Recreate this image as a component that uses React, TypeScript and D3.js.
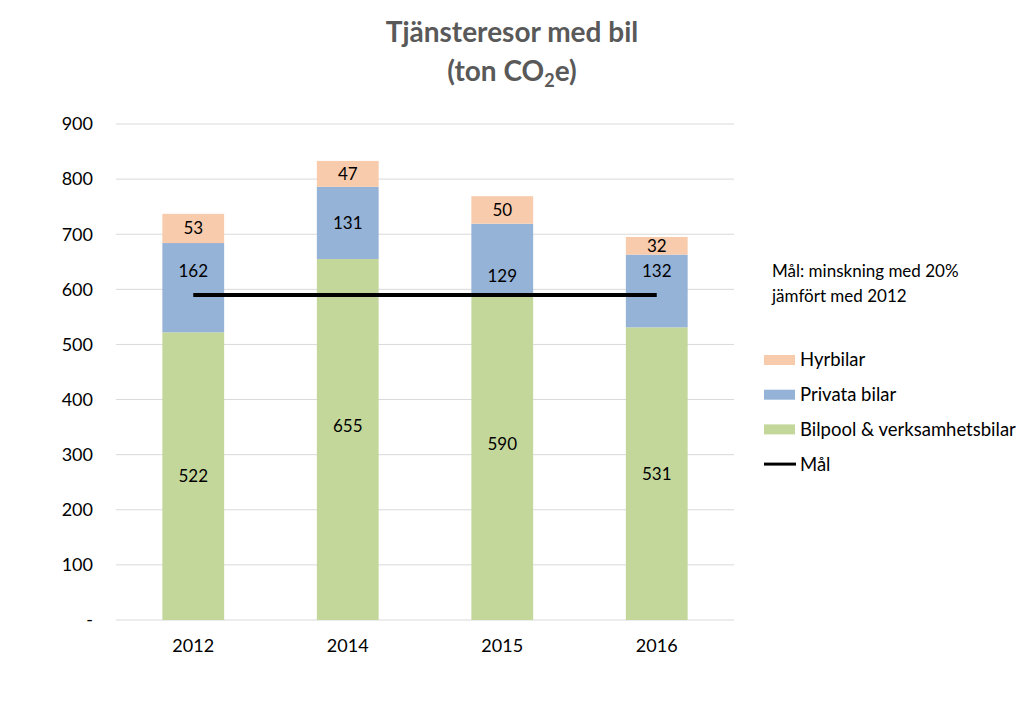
import { useEffect, useRef } from 'react';
import * as d3 from 'd3';

const years = ['2012', '2014', '2015', '2016'];
const bilpool = [522, 655, 590, 531];
const privata = [162, 131, 129, 132];
const hyrbilar = [53, 47, 50, 32];
const yTicks = [0, 100, 200, 300, 400, 500, 600, 700, 800, 900];
const goalReduction = 0.2;

const seriesNames = ['Bilpool & verksamhetsbilar', 'Privata bilar', 'Hyrbilar'];
const colors = ['#c4d79b', '#95b3d7', '#f8cbad'];

// labels that were dragged by hand in the original (pixels)
const labelNudge: Record<string, number> = {
  '0-2014': -13,
  '0-2015': -13,
  '1-2012': -17,
  '1-2015': 17,
  '1-2016': -20,
};

const FONT = 'Lato, "Open Sans", sans-serif';

export default function App() {
  const svgRef = useRef<SVGSVGElement>(null);

  useEffect(() => {
    if (!svgRef.current) return;
    const svg = d3.select(svgRef.current);
    svg.selectAll('*').remove();

    const margin = { top: 124, right: 290, bottom: 87, left: 116 };
    const width = 1024;
    const height = 707;

    const x = d3
      .scaleBand()
      .domain(years)
      .range([margin.left, width - margin.right])
      .paddingInner(0.6)
      .paddingOuter(0.3);

    const y = d3
      .scaleLinear()
      .domain([0, 900])
      .range([height - margin.bottom, margin.top]);

    const g = svg.append('g').style('font-family', FONT);

    // Title
    g.append('text')
      .attr('x', 512)
      .attr('y', 42)
      .attr('text-anchor', 'middle')
      .attr('font-size', 28)
      .attr('font-weight', 'bold')
      .attr('fill', '#595959')
      .text('Tjänsteresor med bil');
    const sub = g
      .append('text')
      .attr('x', 512)
      .attr('y', 81)
      .attr('text-anchor', 'middle')
      .attr('font-size', 28)
      .attr('font-weight', 'bold')
      .attr('fill', '#595959');
    sub.append('tspan').text('(ton CO');
    sub.append('tspan').attr('font-size', 18).attr('dy', 6).text('2');
    sub.append('tspan').attr('dy', -6).text('e)');

    // Grid
    g.append('g')
      .selectAll('line')
      .data(yTicks)
      .join('line')
      .attr('x1', margin.left)
      .attr('x2', width - margin.right)
      .attr('y1', (d) => y(d))
      .attr('y2', (d) => y(d))
      .attr('stroke', '#d9d9d9')
      .attr('stroke-width', 1);

    // Y axis labels
    g.append('g')
      .selectAll('text')
      .data(yTicks)
      .join('text')
      .attr('x', 93)
      .attr('y', (d) => y(d))
      .attr('dy', '0.35em')
      .attr('text-anchor', 'end')
      .attr('font-size', 18)
      .attr('fill', '#000')
      .text((d) => (d === 0 ? '-' : String(d)));

    // X axis labels
    g.append('g')
      .selectAll('text')
      .data(years)
      .join('text')
      .attr('x', (d) => x(d)! + x.bandwidth() / 2)
      .attr('y', height - margin.bottom + 26)
      .attr('dy', '0.35em')
      .attr('text-anchor', 'middle')
      .attr('font-size', 18)
      .attr('fill', '#000')
      .text((d) => d);

    // Stacked bars
    const table = years.map((yr, i) => ({
      year: yr,
      s0: bilpool[i],
      s1: privata[i],
      s2: hyrbilar[i],
    }));
    const stack = d3.stack<any>().keys(['s0', 's1', 's2'])(table);

    stack.forEach((layer, si) => {
      const lg = g.append('g');
      lg.selectAll('rect')
        .data(layer)
        .join('rect')
        .attr('x', (d) => x(d.data.year)!)
        .attr('width', x.bandwidth())
        .attr('y', (d) => y(d[1]))
        .attr('height', (d) => y(d[0]) - y(d[1]))
        .attr('fill', colors[si]);
    });

    // Goal line
    const goal = (bilpool[0] + privata[0] + hyrbilar[0]) * (1 - goalReduction);
    g.append('line')
      .attr('x1', x(years[0])! + x.bandwidth() / 2)
      .attr('x2', x(years[years.length - 1])! + x.bandwidth() / 2)
      .attr('y1', y(goal))
      .attr('y2', y(goal))
      .attr('stroke', '#000')
      .attr('stroke-width', 4);

    // Data labels
    stack.forEach((layer, si) => {
      g.append('g')
        .selectAll('text')
        .data(layer)
        .join('text')
        .attr('x', (d) => x(d.data.year)! + x.bandwidth() / 2)
        .attr(
          'y',
          (d) => (y(d[0]) + y(d[1])) / 2 + (labelNudge[`${si}-${d.data.year}`] ?? 0)
        )
        .attr('dy', '0.35em')
        .attr('text-anchor', 'middle')
        .attr('font-size', 17)
        .attr('fill', '#000')
        .text((d) => String(d[1] - d[0]));
    });

    // Annotation
    g.append('text')
      .attr('x', 772)
      .attr('y', 271)
      .attr('dy', '0.35em')
      .attr('font-size', 17)
      .attr('fill', '#000')
      .text('Mål: minskning med 20%');
    g.append('text')
      .attr('x', 772)
      .attr('y', 296)
      .attr('dy', '0.35em')
      .attr('font-size', 17)
      .attr('fill', '#000')
      .text('jämfört med 2012');

    // Legend
    const legendItems = [
      { name: seriesNames[2], color: colors[2], line: false },
      { name: seriesNames[1], color: colors[1], line: false },
      { name: seriesNames[0], color: colors[0], line: false },
      { name: 'Mål', color: '#000', line: true },
    ];
    const legend = g.append('g').attr('transform', 'translate(764, 360)');
    legendItems.forEach((item, i) => {
      const row = legend.append('g').attr('transform', `translate(0, ${i * 34.7})`);
      if (item.line) {
        row
          .append('line')
          .attr('x1', 0)
          .attr('x2', 32)
          .attr('y1', 0)
          .attr('y2', 0)
          .attr('stroke', item.color)
          .attr('stroke-width', 3);
      } else {
        row
          .append('rect')
          .attr('x', 0)
          .attr('y', -5)
          .attr('width', 31)
          .attr('height', 10)
          .attr('fill', item.color);
      }
      row
        .append('text')
        .attr('x', 36)
        .attr('y', 0)
        .attr('dy', '0.35em')
        .attr('font-size', 18.5)
        .attr('fill', '#000')
        .text(item.name);
    });
  }, []);

  return <svg ref={svgRef} width={1024} height={707} style={{ display: 'block', position: 'absolute', left: 0, top: 0 }} />;
}
